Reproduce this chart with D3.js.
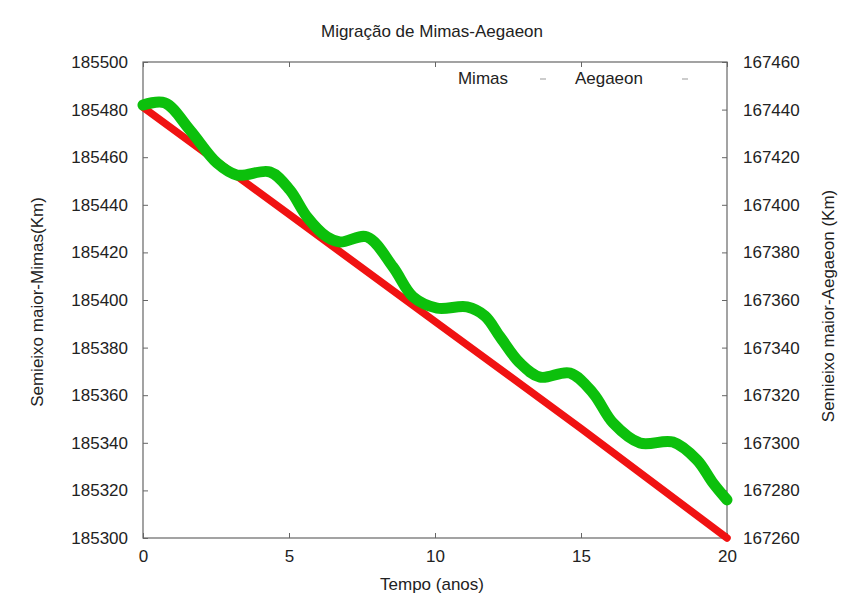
<!DOCTYPE html>
<html>
<head>
<meta charset="utf-8">
<script src="https://cdn.jsdelivr.net/npm/d3@7"></script>
<style>
  html, body { margin: 0; padding: 0; background: #fff; }
  svg { display: block; }
  text { font-family: "Liberation Sans", Arial, sans-serif; fill: #222; }
</style>
</head>
<body>
<svg id="chart" width="857" height="606"></svg>
<script>
// Time axis (years)
const xTicks = [0, 5, 10, 15, 20];
// Left axis: Mimas semi-major axis (km)
const yLeftTicks = [185300, 185320, 185340, 185360, 185380, 185400, 185420, 185440, 185460, 185480, 185500];
// Right axis: Aegaeon semi-major axis (km)
const yRightTicks = [167260, 167280, 167300, 167320, 167340, 167360, 167380, 167400, 167420, 167440, 167460];

// Mimas: steady inward migration
const mimasT = [0, 5, 10, 15, 20];
const mimasA = [185481, 185436, 185391, 185346, 185300];

// Aegaeon: migration with periodic oscillation
const aegaeonT = [0, 0.75, 1.61, 2.53, 3.22, 4.35, 5.03, 5.62, 6.30, 6.75, 7.67, 8.56, 9.25, 10.07, 11.10, 11.71, 12.23, 12.91, 13.60, 14.62, 15.41, 16.10, 17.02, 18.15, 18.97, 19.52, 20];
const aegaeonA = [167441.9, 167442.8, 167431.4, 167417.6, 167412.5, 167413.8, 167406.2, 167394.9, 167386.5, 167384.4, 167386.5, 167373.9, 167361.3, 167356.6, 167357.1, 167353.3, 167344.5, 167333.5, 167327.6, 167329.3, 167320.9, 167308.3, 167299.9, 167300.3, 167292.8, 167283.1, 167276.0];

const L = 143, R = 727, T = 62, B = 538;
const FS = "17px";
const svg = d3.select("#chart");

const x = d3.scaleLinear().domain([0, 20]).range([L, R]);
const yL = d3.scaleLinear().domain([185300, 185500]).range([B, T]);
const yR = d3.scaleLinear().domain([167260, 167460]).range([B, T]);
const fmt = d3.format("d");

// Axes with inward ticks
const axisStyle = g => {
  g.select(".domain").remove();
  g.selectAll(".tick line").attr("stroke", "#666");
  g.selectAll(".tick text").style("font-size", FS).attr("fill", "#222");
};

svg.append("g").attr("transform", `translate(${L},0)`)
  .call(d3.axisLeft(yL).tickValues(yLeftTicks).tickFormat(fmt).tickSize(-5).tickPadding(15))
  .call(axisStyle);

svg.append("g").attr("transform", `translate(${R},0)`)
  .call(d3.axisRight(yR).tickValues(yRightTicks).tickFormat(fmt).tickSize(-5).tickPadding(16))
  .call(axisStyle);

svg.append("g").attr("transform", `translate(0,${B})`)
  .call(d3.axisBottom(x).tickValues(xTicks).tickFormat(fmt).tickSize(-5).tickPadding(12))
  .call(axisStyle);

svg.append("g").attr("transform", `translate(0,${T})`)
  .call(d3.axisTop(x).tickValues(xTicks).tickFormat("").tickSize(-5))
  .call(axisStyle);

// Plot border
svg.append("rect")
  .attr("x", L).attr("y", T).attr("width", R - L).attr("height", B - T)
  .attr("fill", "none").attr("stroke", "#666").attr("stroke-width", 1.2);

// Series
const mimasLine = d3.line()
  .x((d, i) => x(mimasT[i]))
  .y(d => yL(d));

const aegaeonLine = d3.line()
  .x((d, i) => x(aegaeonT[i]))
  .y(d => yR(d))
  .curve(d3.curveCatmullRom.alpha(0.5));

svg.append("path").datum(mimasA)
  .attr("d", mimasLine)
  .attr("fill", "none").attr("stroke", "#f01212").attr("stroke-width", 7.5)
  .attr("stroke-linecap", "round");

svg.append("path").datum(aegaeonA)
  .attr("d", aegaeonLine)
  .attr("fill", "none").attr("stroke", "#0cc00c").attr("stroke-width", 11)
  .attr("stroke-linecap", "round").attr("stroke-linejoin", "round");

// Legend
const legend = [
  { label: "Mimas", textX: 508, sampleX: 543 },
  { label: "Aegaeon", textX: 643, sampleX: 685 }
];
legend.forEach(d => {
  svg.append("text").attr("x", d.textX).attr("y", 84)
    .attr("text-anchor", "end").style("font-size", FS).text(d.label);
  svg.append("line")
    .attr("x1", d.sampleX - 3).attr("x2", d.sampleX + 3)
    .attr("y1", 79).attr("y2", 79)
    .attr("stroke", "#bbb").attr("stroke-width", 1.5);
});

// Title and axis titles
svg.append("text").attr("x", 432).attr("y", 37)
  .attr("text-anchor", "middle").style("font-size", FS)
  .text("Migração de Mimas-Aegaeon");

svg.append("text").attr("x", 432).attr("y", 590)
  .attr("text-anchor", "middle").style("font-size", FS)
  .text("Tempo (anos)");

svg.append("text")
  .attr("transform", "translate(43,302) rotate(-90)")
  .attr("text-anchor", "middle").style("font-size", FS)
  .text("Semieixo maior-Mimas(Km)");

svg.append("text")
  .attr("transform", "translate(834,306) rotate(-90)")
  .attr("text-anchor", "middle").style("font-size", FS)
  .text("Semieixo maior-Aegaeon (Km)");
</script>
</body>
</html>
